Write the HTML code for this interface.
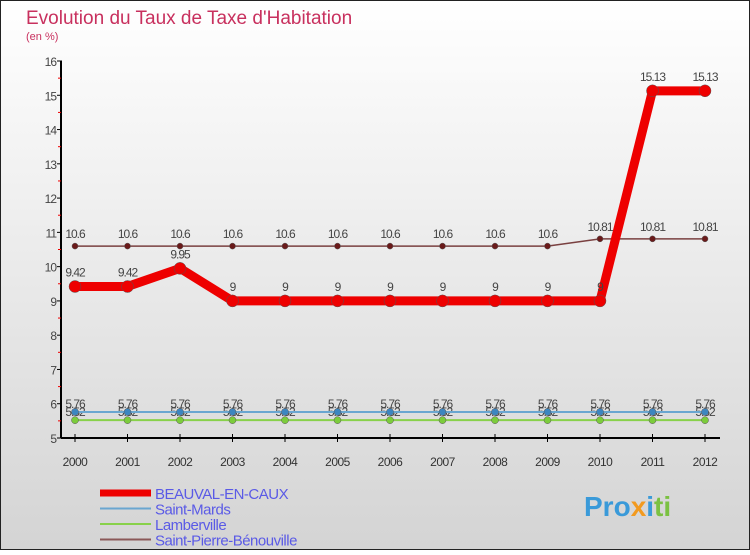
<!DOCTYPE html>
<html><head><meta charset="utf-8"><style>
body{margin:0;}
#wrap{width:750px;height:550px;position:relative;font-family:"Liberation Sans",sans-serif;}
svg text{font-family:"Liberation Sans",sans-serif;}
</style></head><body>
<div id="wrap">
<svg id="chart" width="750" height="550" xmlns="http://www.w3.org/2000/svg">
<defs><linearGradient id="bg" x1="0" y1="0" x2="0" y2="1"><stop offset="0" stop-color="#ffffff"/><stop offset="1" stop-color="#d4d4d4"/></linearGradient></defs>
<rect x="0.5" y="0.5" width="749" height="549" fill="url(#bg)" stroke="#222"/>
<text x="26" y="24" font-size="19" fill="#c8305e">Evolution du Taux de Taxe d'Habitation</text>
<text x="26" y="40" font-size="11" fill="#c8305e">(en %)</text>
<g id="axes"></g><g id="series"></g><g id="legend"></g>
<text x="584" y="516" font-size="28" font-weight="bold" fill="#3a9ad9">Pro<tspan fill="#f29a1f">x</tspan><tspan fill="#3a9ad9">i</tspan><tspan fill="#7bc142">ti</tspan></text>
</svg></div>
<script>
const years=[2000,2001,2002,2003,2004,2005,2006,2007,2008,2009,2010,2011,2012];
const beauval=[9.42,9.42,9.95,9,9,9,9,9,9,9,9,15.13,15.13];
const saintMards=[5.76,5.76,5.76,5.76,5.76,5.76,5.76,5.76,5.76,5.76,5.76,5.76,5.76];
const lamberville=[5.52,5.52,5.52,5.52,5.52,5.52,5.52,5.52,5.52,5.52,5.52,5.52,5.52];
const saintPierre=[10.6,10.6,10.6,10.6,10.6,10.6,10.6,10.6,10.6,10.6,10.81,10.81,10.81];
const yTicks=[5,6,7,8,9,10,11,12,13,14,15,16];
const seriesNames=["BEAUVAL-EN-CAUX","Saint-Mards","Lamberville","Saint-Pierre-Bénouville"];
const NS="http://www.w3.org/2000/svg";
const x=i=>75+i*52.5;
const y=v=>438-(v-5)*(377/11);
function mk(tag,attrs,parent,txt){const e=document.createElementNS(NS,tag);for(const k in attrs)e.setAttribute(k,attrs[k]);if(txt!==undefined)e.textContent=txt;parent.appendChild(e);return e;}
const ax=document.getElementById('axes');
let e=mk('line',{x1:61,y1:61,x2:61,y2:438,stroke:'#000','stroke-width':2},ax);


e=mk('line',{x1:61,y1:438,x2:720,y2:438,stroke:'#000','stroke-width':2},ax);


yTicks.forEach(t=>{
 mk('line',{x1:57,y1:y(t),x2:62,y2:y(t),stroke:'#000'},ax);
 if(t<16)mk('line',{x1:58,y1:y(t+0.5),x2:61,y2:y(t+0.5),stroke:'#e00'},ax);
 e=mk('text',{x:56,y:y(t)+5,'font-size':12,fill:'#444','text-anchor':'end','letter-spacing':'-1'},ax,String(t));
 
 
});
years.forEach((yr,i)=>{
 mk('line',{x1:x(i),y1:434,x2:x(i),y2:442,stroke:'#000'},ax);
 e=mk('text',{x:x(i),y:466,'font-size':12,fill:'#333','text-anchor':'middle','letter-spacing':'-0.5'},ax,String(yr));
 
 
});
const sg=document.getElementById('series');
function draw(vals,color,w,r,dot,name,labelDy){
 const g=mk('g',{},sg);
 
 
 const p=mk('polyline',{points:vals.map((v,i)=>x(i)+','+y(v)).join(' '),fill:'none',stroke:color,'stroke-width':w,'stroke-linejoin':'round'},g);
 
 
 vals.forEach((v,i)=>{
  const c=mk('circle',{cx:x(i),cy:y(v),r:r,fill:dot,stroke:'#555','stroke-width':0.5},g);
  
  
  const t=mk('text',{x:x(i),y:y(v)+labelDy,'font-size':12,fill:'#444','text-anchor':'middle','letter-spacing':'-1'},g,String(v));
  
  
 });
}
draw(lamberville,'#88d14a',2,3.5,'#7ccc3c','lamberville',-4);
draw(saintMards,'#6aa6d0',2,3.5,'#3d86c0','saint-mards',-4);
draw(saintPierre,'#7a4040',1.5,3,'#6a1a1a','saint-pierre',-8);
draw(beauval,'#ee0000',9,6,'#ee0000','beauval',-10);
const lg=document.getElementById('legend');
const lc=['#ee0000','#6aa6d0','#88d14a','#8a5858'],lw=[7,2,2,2];
seriesNames.forEach((n,i)=>{
 const yy=493+i*15.5;
 const g=mk('g',{},lg);
 
 
 mk('line',{x1:100,y1:yy,x2:151,y2:yy,stroke:lc[i],'stroke-width':lw[i]},g);
 mk('text',{x:155,y:yy+6,'font-size':15,fill:'#5a5ae6','letter-spacing':'-0.5'},g,n);
});
</script>
</body></html>
